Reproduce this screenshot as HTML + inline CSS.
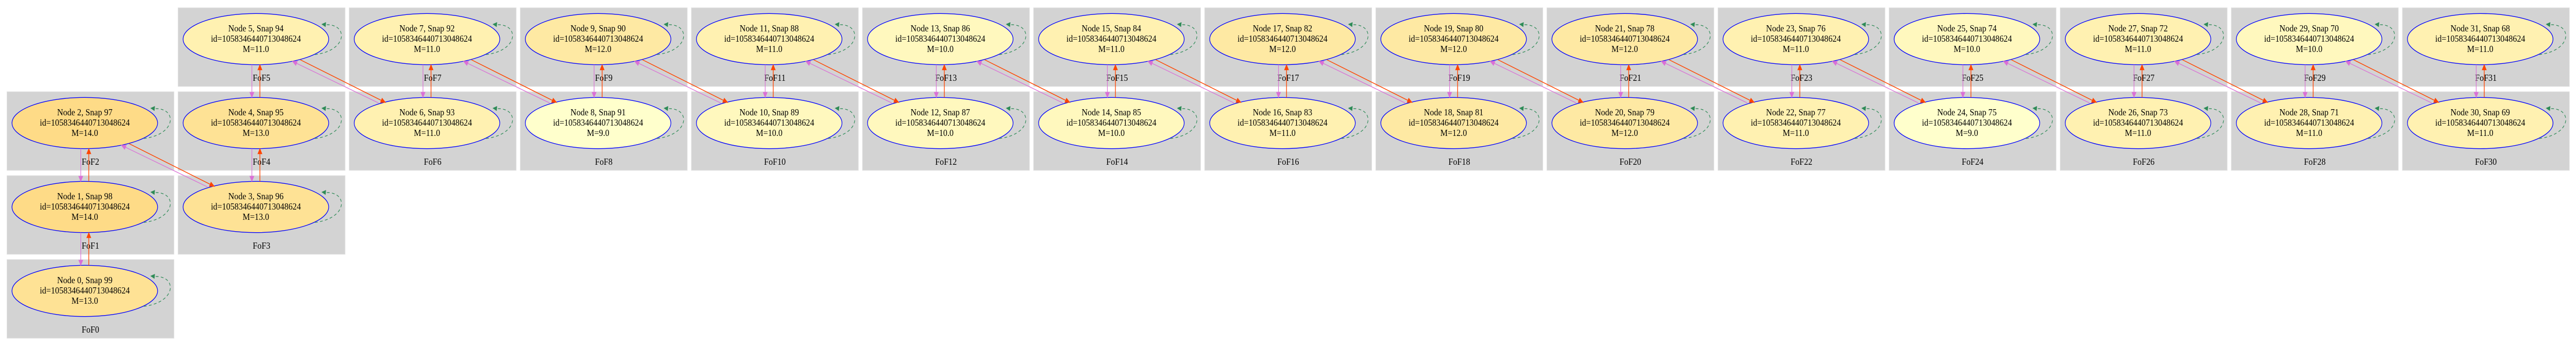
<!DOCTYPE html>
<html><head><meta charset="utf-8"><style>
html,body{margin:0;padding:0;background:#fff;width:100%;height:100%;overflow:hidden;}
svg{display:block;width:100vw;height:100vh}
text{font-family:"Liberation Serif",serif;font-size:18px;text-anchor:middle;fill:#000}
.cl{fill:#d3d3d3;stroke:#e4e4e4;stroke-width:1}
ellipse{stroke:#0000ff;stroke-width:1.4}
</style></head><body>
<svg viewBox="0 0 5581 672" preserveAspectRatio="none" xmlns="http://www.w3.org/2000/svg">
<defs>
<g id="loop"><path d="M128,30 C200,22 200,-30 151.5,-28" fill="none" stroke="#2e8b57" stroke-width="1.3" stroke-dasharray="6,5"/><polygon points="142,-29 152,-33 151,-23.5" fill="#2e8b57"/></g>
<g id="vp"><line x1="-8.7" y1="49.7" x2="-8.7" y2="103.3" stroke="#da70d6" stroke-width="1.3"/><polygon points="-8.7,113.3 -13.2,103.3 -4.2,103.3" fill="#da70d6" stroke="#da70d6"/><line x1="8.7" y1="113.3" x2="8.7" y2="59.7" stroke="#ff4500" stroke-width="1.5"/><polygon points="8.7,49.7 4.2,59.7 13.2,59.7" fill="#ff4500" stroke="#ff4500"/></g>
<g id="dg"><line x1="96" y1="40" x2="271.6" y2="118.9" stroke="#ff4500" stroke-width="1.5"/><polygon points="280.7,123 273.45,114.8 269.75,123" fill="#ff4500" stroke="#ff4500"/><line x1="265.7" y1="124" x2="88.2" y2="47" stroke="#da70d6" stroke-width="1.3"/><polygon points="79,43 89.99,42.87 86.41,51.13" fill="#da70d6" stroke="#da70d6"/></g>
</defs>
<rect class="cl" x="15" y="504" width="362" height="153"/><text x="196" y="646">FoF0</text>
<rect class="cl" x="15" y="341" width="362" height="153"/><text x="196" y="483">FoF1</text>
<rect class="cl" x="15" y="178" width="362" height="153"/><text x="196" y="320">FoF2</text>
<rect class="cl" x="385.7" y="341" width="362" height="153"/><text x="566.7" y="483">FoF3</text>
<rect class="cl" x="385.7" y="178" width="362" height="153"/><text x="566.7" y="320">FoF4</text>
<rect class="cl" x="385.7" y="15" width="362" height="153"/><text x="566.7" y="157">FoF5</text>
<rect class="cl" x="756.4" y="178" width="362" height="153"/><text x="937.4" y="320">FoF6</text>
<rect class="cl" x="756.4" y="15" width="362" height="153"/><text x="937.4" y="157">FoF7</text>
<rect class="cl" x="1127.1" y="178" width="362" height="153"/><text x="1308.1" y="320">FoF8</text>
<rect class="cl" x="1127.1" y="15" width="362" height="153"/><text x="1308.1" y="157">FoF9</text>
<rect class="cl" x="1497.8" y="178" width="362" height="153"/><text x="1678.8" y="320">FoF10</text>
<rect class="cl" x="1497.8" y="15" width="362" height="153"/><text x="1678.8" y="157">FoF11</text>
<rect class="cl" x="1868.5" y="178" width="362" height="153"/><text x="2049.5" y="320">FoF12</text>
<rect class="cl" x="1868.5" y="15" width="362" height="153"/><text x="2049.5" y="157">FoF13</text>
<rect class="cl" x="2239.2" y="178" width="362" height="153"/><text x="2420.2" y="320">FoF14</text>
<rect class="cl" x="2239.2" y="15" width="362" height="153"/><text x="2420.2" y="157">FoF15</text>
<rect class="cl" x="2609.9" y="178" width="362" height="153"/><text x="2790.9" y="320">FoF16</text>
<rect class="cl" x="2609.9" y="15" width="362" height="153"/><text x="2790.9" y="157">FoF17</text>
<rect class="cl" x="2980.6" y="178" width="362" height="153"/><text x="3161.6" y="320">FoF18</text>
<rect class="cl" x="2980.6" y="15" width="362" height="153"/><text x="3161.6" y="157">FoF19</text>
<rect class="cl" x="3351.3" y="178" width="362" height="153"/><text x="3532.3" y="320">FoF20</text>
<rect class="cl" x="3351.3" y="15" width="362" height="153"/><text x="3532.3" y="157">FoF21</text>
<rect class="cl" x="3722" y="178" width="362" height="153"/><text x="3903" y="320">FoF22</text>
<rect class="cl" x="3722" y="15" width="362" height="153"/><text x="3903" y="157">FoF23</text>
<rect class="cl" x="4092.7" y="178" width="362" height="153"/><text x="4273.7" y="320">FoF24</text>
<rect class="cl" x="4092.7" y="15" width="362" height="153"/><text x="4273.7" y="157">FoF25</text>
<rect class="cl" x="4463.4" y="178" width="362" height="153"/><text x="4644.4" y="320">FoF26</text>
<rect class="cl" x="4463.4" y="15" width="362" height="153"/><text x="4644.4" y="157">FoF27</text>
<rect class="cl" x="4834.1" y="178" width="362" height="153"/><text x="5015.1" y="320">FoF28</text>
<rect class="cl" x="4834.1" y="15" width="362" height="153"/><text x="5015.1" y="157">FoF29</text>
<rect class="cl" x="5204.8" y="178" width="362" height="153"/><text x="5385.8" y="320">FoF30</text>
<rect class="cl" x="5204.8" y="15" width="362" height="153"/><text x="5385.8" y="157">FoF31</text>
<g transform="translate(183.7,565)"><ellipse rx="157.7" ry="49.7" fill="#fee295"/><use href="#loop"/><text y="-15">Node 0, Snap 99</text><text y="5">id=1058346440713048624</text><text y="25">M=13.0</text></g>
<g transform="translate(183.7,402)"><ellipse rx="157.7" ry="49.7" fill="#fedb87"/><use href="#loop"/><text y="-15">Node 1, Snap 98</text><text y="5">id=1058346440713048624</text><text y="25">M=14.0</text></g>
<g transform="translate(183.7,239)"><ellipse rx="157.7" ry="49.7" fill="#fedb87"/><use href="#loop"/><text y="-15">Node 2, Snap 97</text><text y="5">id=1058346440713048624</text><text y="25">M=14.0</text></g>
<g transform="translate(554.4,402)"><ellipse rx="157.7" ry="49.7" fill="#fee295"/><use href="#loop"/><text y="-15">Node 3, Snap 96</text><text y="5">id=1058346440713048624</text><text y="25">M=13.0</text></g>
<g transform="translate(554.4,239)"><ellipse rx="157.7" ry="49.7" fill="#fee295"/><use href="#loop"/><text y="-15">Node 4, Snap 95</text><text y="5">id=1058346440713048624</text><text y="25">M=13.0</text></g>
<g transform="translate(554.4,76)"><ellipse rx="157.7" ry="49.7" fill="#fff1b1"/><use href="#loop"/><text y="-15">Node 5, Snap 94</text><text y="5">id=1058346440713048624</text><text y="25">M=11.0</text></g>
<g transform="translate(925.1,239)"><ellipse rx="157.7" ry="49.7" fill="#fff1b1"/><use href="#loop"/><text y="-15">Node 6, Snap 93</text><text y="5">id=1058346440713048624</text><text y="25">M=11.0</text></g>
<g transform="translate(925.1,76)"><ellipse rx="157.7" ry="49.7" fill="#fff1b1"/><use href="#loop"/><text y="-15">Node 7, Snap 92</text><text y="5">id=1058346440713048624</text><text y="25">M=11.0</text></g>
<g transform="translate(1295.8,239)"><ellipse rx="157.7" ry="49.7" fill="#ffffcc"/><use href="#loop"/><text y="-15">Node 8, Snap 91</text><text y="5">id=1058346440713048624</text><text y="25">M=9.0</text></g>
<g transform="translate(1295.8,76)"><ellipse rx="157.7" ry="49.7" fill="#fee9a3"/><use href="#loop"/><text y="-15">Node 9, Snap 90</text><text y="5">id=1058346440713048624</text><text y="25">M=12.0</text></g>
<g transform="translate(1666.5,239)"><ellipse rx="157.7" ry="49.7" fill="#fff8be"/><use href="#loop"/><text y="-15">Node 10, Snap 89</text><text y="5">id=1058346440713048624</text><text y="25">M=10.0</text></g>
<g transform="translate(1666.5,76)"><ellipse rx="157.7" ry="49.7" fill="#fff1b1"/><use href="#loop"/><text y="-15">Node 11, Snap 88</text><text y="5">id=1058346440713048624</text><text y="25">M=11.0</text></g>
<g transform="translate(2037.2,239)"><ellipse rx="157.7" ry="49.7" fill="#fff8be"/><use href="#loop"/><text y="-15">Node 12, Snap 87</text><text y="5">id=1058346440713048624</text><text y="25">M=10.0</text></g>
<g transform="translate(2037.2,76)"><ellipse rx="157.7" ry="49.7" fill="#fff8be"/><use href="#loop"/><text y="-15">Node 13, Snap 86</text><text y="5">id=1058346440713048624</text><text y="25">M=10.0</text></g>
<g transform="translate(2407.9,239)"><ellipse rx="157.7" ry="49.7" fill="#fff8be"/><use href="#loop"/><text y="-15">Node 14, Snap 85</text><text y="5">id=1058346440713048624</text><text y="25">M=10.0</text></g>
<g transform="translate(2407.9,76)"><ellipse rx="157.7" ry="49.7" fill="#fff1b1"/><use href="#loop"/><text y="-15">Node 15, Snap 84</text><text y="5">id=1058346440713048624</text><text y="25">M=11.0</text></g>
<g transform="translate(2778.6,239)"><ellipse rx="157.7" ry="49.7" fill="#fff1b1"/><use href="#loop"/><text y="-15">Node 16, Snap 83</text><text y="5">id=1058346440713048624</text><text y="25">M=11.0</text></g>
<g transform="translate(2778.6,76)"><ellipse rx="157.7" ry="49.7" fill="#fee9a3"/><use href="#loop"/><text y="-15">Node 17, Snap 82</text><text y="5">id=1058346440713048624</text><text y="25">M=12.0</text></g>
<g transform="translate(3149.3,239)"><ellipse rx="157.7" ry="49.7" fill="#fee9a3"/><use href="#loop"/><text y="-15">Node 18, Snap 81</text><text y="5">id=1058346440713048624</text><text y="25">M=12.0</text></g>
<g transform="translate(3149.3,76)"><ellipse rx="157.7" ry="49.7" fill="#fee9a3"/><use href="#loop"/><text y="-15">Node 19, Snap 80</text><text y="5">id=1058346440713048624</text><text y="25">M=12.0</text></g>
<g transform="translate(3520,239)"><ellipse rx="157.7" ry="49.7" fill="#fee9a3"/><use href="#loop"/><text y="-15">Node 20, Snap 79</text><text y="5">id=1058346440713048624</text><text y="25">M=12.0</text></g>
<g transform="translate(3520,76)"><ellipse rx="157.7" ry="49.7" fill="#fee9a3"/><use href="#loop"/><text y="-15">Node 21, Snap 78</text><text y="5">id=1058346440713048624</text><text y="25">M=12.0</text></g>
<g transform="translate(3890.7,239)"><ellipse rx="157.7" ry="49.7" fill="#fff1b1"/><use href="#loop"/><text y="-15">Node 22, Snap 77</text><text y="5">id=1058346440713048624</text><text y="25">M=11.0</text></g>
<g transform="translate(3890.7,76)"><ellipse rx="157.7" ry="49.7" fill="#fff1b1"/><use href="#loop"/><text y="-15">Node 23, Snap 76</text><text y="5">id=1058346440713048624</text><text y="25">M=11.0</text></g>
<g transform="translate(4261.4,239)"><ellipse rx="157.7" ry="49.7" fill="#ffffcc"/><use href="#loop"/><text y="-15">Node 24, Snap 75</text><text y="5">id=1058346440713048624</text><text y="25">M=9.0</text></g>
<g transform="translate(4261.4,76)"><ellipse rx="157.7" ry="49.7" fill="#fff8be"/><use href="#loop"/><text y="-15">Node 25, Snap 74</text><text y="5">id=1058346440713048624</text><text y="25">M=10.0</text></g>
<g transform="translate(4632.1,239)"><ellipse rx="157.7" ry="49.7" fill="#fff1b1"/><use href="#loop"/><text y="-15">Node 26, Snap 73</text><text y="5">id=1058346440713048624</text><text y="25">M=11.0</text></g>
<g transform="translate(4632.1,76)"><ellipse rx="157.7" ry="49.7" fill="#fff1b1"/><use href="#loop"/><text y="-15">Node 27, Snap 72</text><text y="5">id=1058346440713048624</text><text y="25">M=11.0</text></g>
<g transform="translate(5002.8,239)"><ellipse rx="157.7" ry="49.7" fill="#fff1b1"/><use href="#loop"/><text y="-15">Node 28, Snap 71</text><text y="5">id=1058346440713048624</text><text y="25">M=11.0</text></g>
<g transform="translate(5002.8,76)"><ellipse rx="157.7" ry="49.7" fill="#fff8be"/><use href="#loop"/><text y="-15">Node 29, Snap 70</text><text y="5">id=1058346440713048624</text><text y="25">M=10.0</text></g>
<g transform="translate(5373.5,239)"><ellipse rx="157.7" ry="49.7" fill="#fff1b1"/><use href="#loop"/><text y="-15">Node 30, Snap 69</text><text y="5">id=1058346440713048624</text><text y="25">M=11.0</text></g>
<g transform="translate(5373.5,76)"><ellipse rx="157.7" ry="49.7" fill="#fff1b1"/><use href="#loop"/><text y="-15">Node 31, Snap 68</text><text y="5">id=1058346440713048624</text><text y="25">M=11.0</text></g>
<use href="#vp" x="183.7" y="402"/>
<use href="#vp" x="183.7" y="239"/>
<use href="#vp" x="554.4" y="239"/>
<use href="#vp" x="554.4" y="76"/>
<use href="#vp" x="925.1" y="76"/>
<use href="#vp" x="1295.8" y="76"/>
<use href="#vp" x="1666.5" y="76"/>
<use href="#vp" x="2037.2" y="76"/>
<use href="#vp" x="2407.9" y="76"/>
<use href="#vp" x="2778.6" y="76"/>
<use href="#vp" x="3149.3" y="76"/>
<use href="#vp" x="3520" y="76"/>
<use href="#vp" x="3890.7" y="76"/>
<use href="#vp" x="4261.4" y="76"/>
<use href="#vp" x="4632.1" y="76"/>
<use href="#vp" x="5002.8" y="76"/>
<use href="#vp" x="5373.5" y="76"/>
<use href="#dg" x="183.7" y="239"/>
<use href="#dg" x="554.4" y="76"/>
<use href="#dg" x="925.1" y="76"/>
<use href="#dg" x="1295.8" y="76"/>
<use href="#dg" x="1666.5" y="76"/>
<use href="#dg" x="2037.2" y="76"/>
<use href="#dg" x="2407.9" y="76"/>
<use href="#dg" x="2778.6" y="76"/>
<use href="#dg" x="3149.3" y="76"/>
<use href="#dg" x="3520" y="76"/>
<use href="#dg" x="3890.7" y="76"/>
<use href="#dg" x="4261.4" y="76"/>
<use href="#dg" x="4632.1" y="76"/>
<use href="#dg" x="5002.8" y="76"/>
</svg>
</body></html>
